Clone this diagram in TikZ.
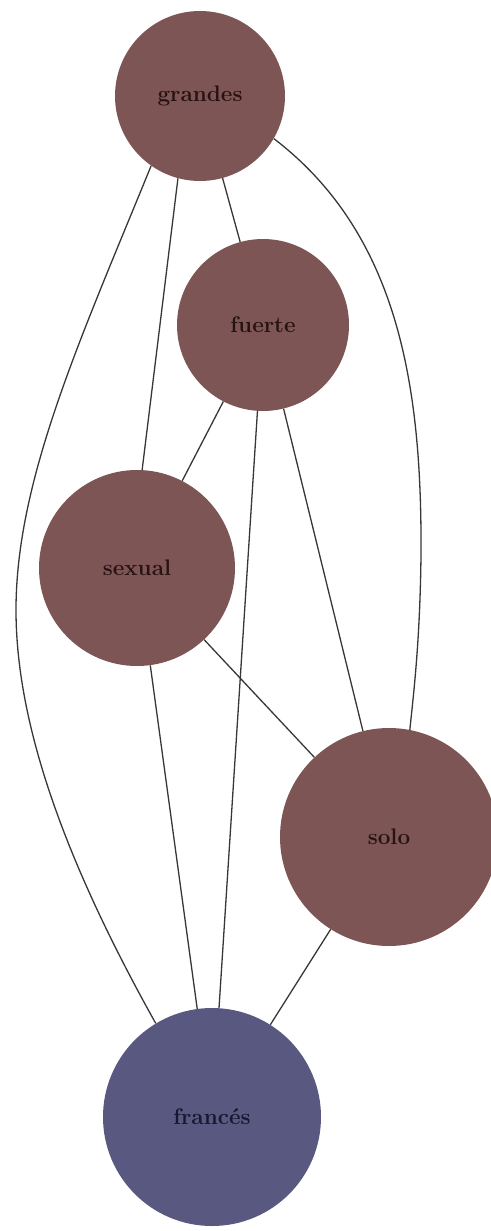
\documentclass[tikz,border=0pt]{standalone}
\usetikzlibrary{backgrounds}

\definecolor{nodebrown}{RGB}{125,85,85}
\definecolor{nodeblue}{RGB}{88,88,128}
\definecolor{textbrown}{RGB}{40,18,18}
\definecolor{textblue}{RGB}{24,24,48}
\definecolor{edgegray}{RGB}{55,55,55}

\tikzset{
  word/.style={circle, inner sep=0pt, font=\fontsize{22.5}{26}\selectfont\bfseries},
  brownword/.style={word, fill=nodebrown, text=textbrown},
  blueword/.style={word, fill=nodeblue, text=textblue},
  link/.style={draw=edgegray, line width=1.3pt},
}

\begin{document}
\begin{tikzpicture}[x=1pt, y=-1pt]
  \useasboundingbox (0,0) rectangle (490,1231);

  % word nodes
  \node[brownword, minimum size=170pt] (grandes) at (200,96)   {grandes};
  \node[brownword, minimum size=172pt] (fuerte)  at (263,325)  {fuerte};
  \node[brownword, minimum size=196pt] (sexual)  at (137,568)  {sexual};
  \node[brownword, minimum size=218pt] (solo)    at (389,837)  {solo};
  \node[blueword,  minimum size=218pt] (frances) at (212,1117) {francés};

  % co-occurrence links, kept behind the circles
  \begin{pgfonlayer}{background}
    \draw[link] (grandes.235) .. controls (80,340) and (16,480) .. (16,610)
                .. controls (16,730) and (70,870) .. (frances.121);
    \draw[link] (grandes.330) .. controls (400,235) and (422,390) .. (421,555)
                .. controls (420,640) and (414,690) .. (solo.79);
    \draw[link] (grandes.255) -- (sexual.87);
    \draw[link] (grandes) -- (fuerte);
    \draw[link] (fuerte) -- (sexual);
    \draw[link] (fuerte) -- (frances);
    \draw[link] (fuerte) -- (solo);
    \draw[link] (sexual) -- (solo);
    \draw[link] (sexual) -- (frances);
    \draw[link] (solo) -- (frances);
  \end{pgfonlayer}
\end{tikzpicture}
\end{document}
